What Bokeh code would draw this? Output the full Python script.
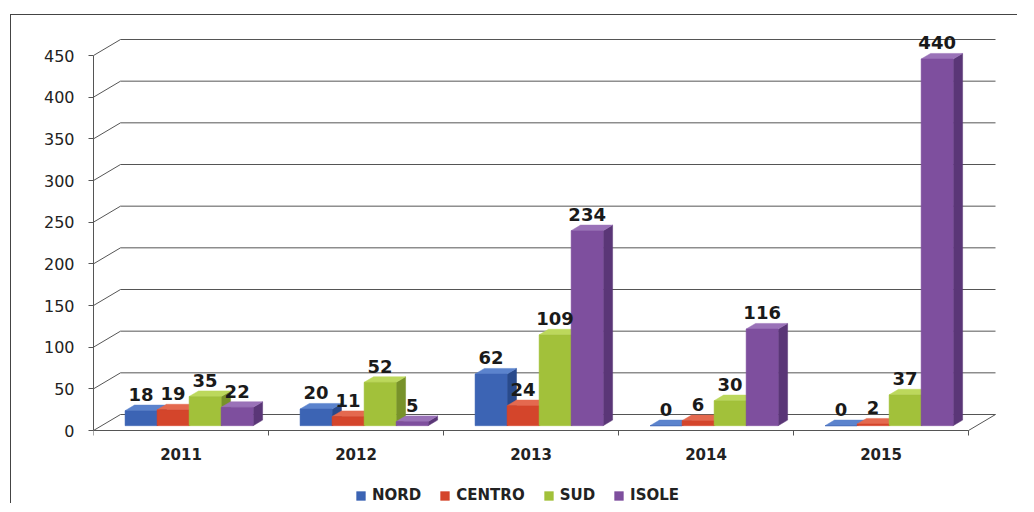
from bokeh.plotting import figure
from bokeh.models import Range1d, FixedTicker, Legend, LegendItem, ColumnDataSource
from bokeh.core.properties import value
from bokeh.embed import file_html
from bokeh.resources import INLINE

# ---------------- data ----------------
years = ["2011", "2012", "2013", "2014", "2015"]
series = ["NORD", "CENTRO", "SUD", "ISOLE"]
nord = [18, 20, 62, 0, 0]
centro = [19, 11, 24, 6, 2]
sud = [35, 52, 109, 30, 37]
isole = [22, 5, 234, 116, 440]
y_ticks = [0, 50, 100, 150, 200, 250, 300, 350, 400, 450]

# ---------------- styles ----------------
front_colors = ["#3c64b4", "#d4452b", "#a2c13a", "#7e4f9e"]
top_colors = ["#5b83cd", "#e4694f", "#bcd85c", "#9a72b8"]
side_colors = ["#294a8c", "#a6311b", "#78922a", "#5a3677"]
LINE = "#555555"
FONT = "DejaVu Sans"

PX_X = 175.0           # pixels per category
PX_Y = 375.0 / 450.0   # pixels per value unit
DEPTH_X_PX, DEPTH_Y_PX = 27.0, 16.0
dxu = DEPTH_X_PX / PX_X
dyu = DEPTH_Y_PX / PX_Y
F_FRONT, F_BACK = 0.30, 0.65
BAR_W = 0.183

frame_left, frame_w, frame_top, zero_px, frame_bottom = 82, 922, 15, 415, 489
x_end = frame_w / PX_X
y_end = (zero_px - frame_top) / PX_Y
y_start = -(frame_bottom - zero_px) / PX_Y

values = [nord, centro, sud, isole]
ncat = len(years)

p = figure(width=frame_left + frame_w + 3, height=frame_bottom, output_backend="svg",
           toolbar_location=None,
           x_range=Range1d(0, x_end), y_range=Range1d(y_start, y_end),
           min_border_left=frame_left, min_border_right=3, min_border_top=frame_top,
           min_border_bottom=0,
           styles={"border-top": "1px solid #444", "border-left": "1px solid #444",
                   "margin-top": "14px", "margin-left": "10px"})
p.outline_line_color = None
p.xgrid.visible = False
p.ygrid.visible = False
p.background_fill_color = "white"

# y axis
p.yaxis.ticker = FixedTicker(ticks=y_ticks, minor_ticks=[])
p.yaxis.bounds = (0, 450)
p.yaxis.major_tick_out = 5
p.yaxis.major_tick_in = 0
p.yaxis.minor_tick_out = 0
p.yaxis.minor_tick_in = 0
p.yaxis.major_label_standoff = 14
p.yaxis.major_label_text_font = FONT
p.yaxis.major_label_text_font_size = "16px"
p.yaxis.major_label_text_color = "#222222"
p.yaxis.axis_line_color = LINE
p.yaxis.major_tick_line_color = LINE

# x axis (front edge of the floor)
centers = [i + 0.5 for i in range(ncat)]
p.xaxis.ticker = FixedTicker(ticks=centers, minor_ticks=list(range(ncat + 1)))
p.xaxis.major_label_overrides = {c: y for c, y in zip(centers, years)}
p.xaxis.bounds = (0, ncat)
p.xaxis.fixed_location = 0
p.xaxis.major_tick_out = 0
p.xaxis.major_tick_in = 0
p.xaxis.minor_tick_out = 5
p.xaxis.minor_tick_in = 0
p.xaxis.major_label_standoff = 12
p.xaxis.major_label_text_font = FONT
p.xaxis.major_label_text_font_size = "15px"
p.xaxis.major_label_text_font_style = "bold"
p.xaxis.major_label_text_color = "#222222"
p.xaxis.axis_line_color = LINE
p.xaxis.minor_tick_line_color = LINE

# back-wall gridlines with their diagonal on the side wall
gx = [[0, dxu, ncat + dxu] for v in y_ticks]
gy = [[v, v + dyu, v + dyu] for v in y_ticks]
p.multi_line(gx, gy, line_color=LINE, line_width=1)
# right edge of the floor
p.segment(x0=[ncat], y0=[0], x1=[ncat + dxu], y1=[dyu], line_color=LINE, line_width=1)

fx, fy = F_FRONT * dxu, F_FRONT * dyu
bx, by = F_BACK * dxu, F_BACK * dyu
start = (1 - len(series) * BAR_W) / 2

side_xs, side_ys, side_c = [], [], []
top_xs, top_ys, top_c = [], [], []
lab_x, lab_y, lab_t = [], [], []
front_sources = []
for j, vals in enumerate(values):
    fl, fr, fb, ft = [], [], [], []
    for i, v in enumerate(vals):
        xl = i + start + j * BAR_W
        xr = xl + BAR_W
        side_xs.append([xr + fx, xr + bx, xr + bx, xr + fx])
        side_ys.append([fy, by, v + by, v + fy])
        side_c.append(side_colors[j])
        top_xs.append([xl + fx, xr + fx, xr + bx, xl + bx])
        top_ys.append([v + fy, v + fy, v + by, v + by])
        top_c.append(top_colors[j])
        fl.append(xl + fx)
        fr.append(xr + fx)
        fb.append(fy)
        ft.append(v + fy)
        lab_x.append(xl + BAR_W / 2 + fx)
        lab_y.append(v + by)
        lab_t.append(str(v))
    front_sources.append(ColumnDataSource(dict(left=fl, right=fr, bottom=fb, top=ft)))

# draw: sides, then tops, then fronts (front faces hide the side of the bar before)
p.patches(side_xs, side_ys, fill_color=side_c, line_color=side_c, line_width=0.5)
p.patches(top_xs, top_ys, fill_color=top_c, line_color=top_c, line_width=0.5)
items = []
for j, src in enumerate(front_sources):
    r = p.quad(left="left", right="right", bottom="bottom", top="top", source=src,
               fill_color=front_colors[j], line_color=front_colors[j], line_width=0.5)
    items.append(LegendItem(label=series[j], renderers=[r]))

p.text(x=lab_x, y=lab_y, text=lab_t, text_align="center", text_baseline="bottom",
       y_offset=-4, text_font=value(FONT), text_font_size="18px",
       text_font_style="bold", text_color="#1a1a1a")

legend = Legend(items=items, orientation="horizontal", location=(262, 0),
                border_line_color=None, background_fill_alpha=0,
                label_text_font=FONT, label_text_font_size="15px",
                label_text_font_style="bold", label_text_color="#222222",
                glyph_width=11, glyph_height=11, label_standoff=6, spacing=18,
                padding=3, margin=0, label_height=14)
p.add_layout(legend)

open("out.html", "w").write(file_html(p, INLINE))
